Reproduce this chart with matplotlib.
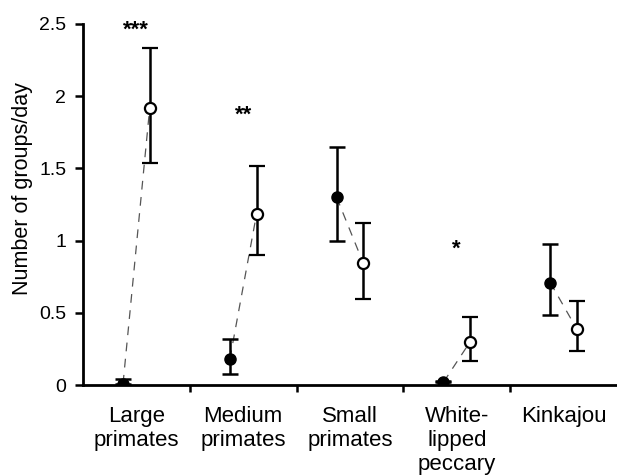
import matplotlib.pyplot as plt
import numpy as np

plt.rcParams['font.family'] = ['Liberation Sans', 'DejaVu Sans']

# Data
categories = ['Large\nprimates', 'Medium\nprimates', 'Small\nprimates',
              'White-\nlipped\npeccary', 'Kinkajou']
filled_mean = [0.01, 0.18, 1.30, 0.02, 0.71]
filled_low = [0.01, 0.078, 1.00, 0.02, 0.487]
filled_high = [0.04, 0.32, 1.65, 0.03, 0.974]
open_mean = [1.92, 1.184, 0.843, 0.30, 0.386]
open_low = [1.537, 0.90, 0.598, 0.168, 0.235]
open_high = [2.336, 1.519, 1.124, 0.473, 0.584]
stars = ['***', '**', '', '*', '']
star_y = [2.46, 1.87, 0, 0.94, 0]

fig = plt.figure(figsize=(6.17, 4.76), dpi=100)
ax = fig.add_axes([0.1345, 0.191, 0.8655, 0.7586])

centers = np.arange(len(categories)) + 0.5
off = 0.125
xf = centers - off
xo = centers + off

fm = np.array(filled_mean)
om = np.array(open_mean)

# dashed connectors
for i in range(len(categories)):
    ax.plot([xf[i], xo[i]], [fm[i], om[i]], color='#555555', lw=0.9,
            dashes=(7, 6), zorder=1)

ax.errorbar(xf, fm, yerr=[fm - np.array(filled_low), np.array(filled_high) - fm],
            fmt='o', color='black', ms=8, mfc='black', mec='black',
            elinewidth=1.8, capsize=6, capthick=1.8, zorder=3)
ax.errorbar(xo, om, yerr=[om - np.array(open_low), np.array(open_high) - om],
            fmt='o', color='black', ms=8, mfc='white', mec='black', mew=1.6,
            elinewidth=1.8, capsize=6, capthick=1.8, zorder=3)

for i, s in enumerate(stars):
    if s:
        ax.text(centers[i], star_y[i], s, ha='center', va='center',
                fontsize=16, fontweight='bold')

ax.set_xlim(0, 5)
ax.set_ylim(0, 2.5)
ax.set_yticks([0, 0.5, 1, 1.5, 2, 2.5])
ax.set_yticklabels(['0', '0.5', '1', '1.5', '2', '2.5'])
ax.set_xticks([1, 2, 3, 4])
ax.set_xticklabels([])
ax.set_xticks(centers, minor=True)
ax.set_xticklabels(categories, minor=True, fontsize=16, linespacing=1.2)
ax.tick_params(axis='x', which='minor', length=0, pad=15)
ax.tick_params(axis='x', which='major', direction='out', length=5, width=1.8)
ax.tick_params(axis='y', direction='out', length=6, width=1.8, labelsize=14,
               pad=6)

for side in ['top', 'right']:
    ax.spines[side].set_visible(False)
for side in ['left', 'bottom']:
    ax.spines[side].set_linewidth(2)

ax.set_ylabel('Number of groups/day', fontsize=15.5)
ax.yaxis.set_label_coords(-0.094, 0.543)

fig.savefig('out.png', dpi=100)
